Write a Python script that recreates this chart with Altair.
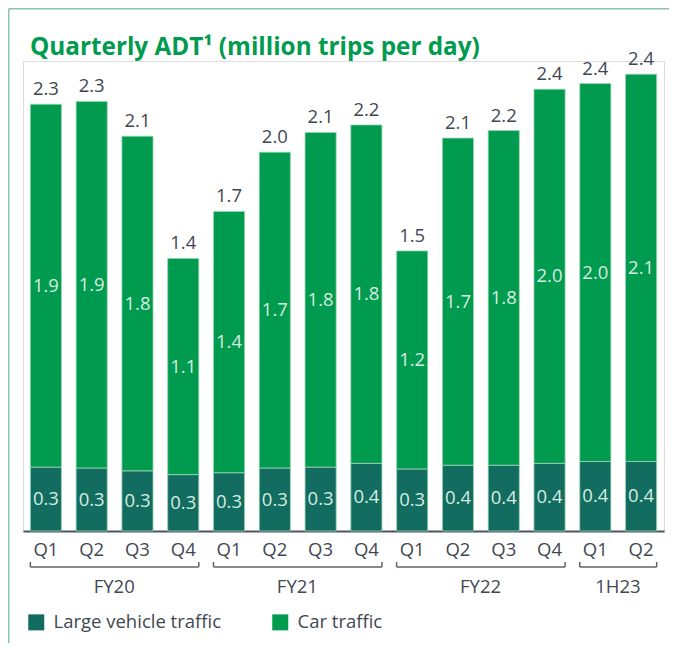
import altair as alt
import pandas as pd

# ---- data ----
ids = ["FY20 Q1", "FY20 Q2", "FY20 Q3", "FY20 Q4",
       "FY21 Q1", "FY21 Q2", "FY21 Q3", "FY21 Q4",
       "FY22 Q1", "FY22 Q2", "FY22 Q3", "FY22 Q4",
       "1H23 Q1", "1H23 Q2"]
large = [0.34, 0.335, 0.32, 0.30, 0.31, 0.335, 0.34, 0.36, 0.33, 0.35, 0.35, 0.36, 0.37, 0.37]
car = [1.93, 1.95, 1.78, 1.15, 1.39, 1.68, 1.78, 1.80, 1.16, 1.74, 1.78, 1.99, 2.01, 2.06]
large_labels = ["0.3", "0.3", "0.3", "0.3", "0.3", "0.3", "0.3", "0.4", "0.3", "0.4", "0.4", "0.4", "0.4", "0.4"]
car_labels = ["1.9", "1.9", "1.8", "1.1", "1.4", "1.7", "1.8", "1.8", "1.2", "1.7", "1.8", "2.0", "2.0", "2.1"]
total_labels = ["2.3", "2.3", "2.1", "1.4", "1.7", "2.0", "2.1", "2.2", "1.5", "2.1", "2.2", "2.4", "2.4", "2.4"]

groups = ["FY20", "FY21", "FY22", "1H23"]
group_first = ["FY20 Q1", "FY21 Q1", "FY22 Q1", "1H23 Q1"]
group_last = ["FY20 Q4", "FY21 Q4", "FY22 Q4", "1H23 Q2"]
group_anchor = ["FY20 Q2", "FY21 Q2", "FY22 Q2", "1H23 Q1"]

series_names = ["Large vehicle traffic", "Car traffic"]
series_colors = ["#136c60", "#009b4e"]
title_text = "Quarterly ADT\u00b9 (million trips per day)"

# ---- layout ----
W, H = 641, 470
PAD = {"left": 15, "top": 53, "right": 5, "bottom": 112}
FONT = "Open Sans"
DARK = "#3f4852"
FS = 18.5

rows = []
for i, k in enumerate(ids):
    rows.append({"id": k, "series": series_names[0], "start": 0.0, "end": large[i], "label": large_labels[i]})
    rows.append({"id": k, "series": series_names[1], "start": large[i], "end": large[i] + car[i], "label": car_labels[i]})
bar_df = pd.DataFrame(rows)
bar_df["mid"] = (bar_df["start"] + bar_df["end"]) / 2

tot_df = pd.DataFrame({"id": ids, "total": [a + b for a, b in zip(large, car)], "label": total_labels})
grp_df = pd.DataFrame({"group": groups, "first": group_first, "last": group_last, "anchor": group_anchor})

xscale = alt.Scale(domain=ids, paddingInner=0.32, paddingOuter=0.16)
xaxis = alt.Axis(title=None, labelExpr="split(datum.label, ' ')[1]", ticks=False,
                 domainColor="#4d5560", domainWidth=2, labelFontSize=FS,
                 labelColor=DARK, labelFont=FONT, labelPadding=9, labelAngle=0)
yscale = alt.Scale(domain=[0, 2.5], nice=False)

bars = alt.Chart(bar_df).mark_bar(stroke="#9ad6b4", strokeWidth=0.8).encode(
    x=alt.X("id:N", scale=xscale, axis=xaxis),
    y=alt.Y("start:Q", scale=yscale, axis=None),
    y2="end:Q",
    color=alt.Color("series:N",
                    scale=alt.Scale(domain=series_names, range=series_colors),
                    legend=alt.Legend(title=None, orient="none", legendX=4, legendY=552,
                                      direction="horizontal", symbolType="square", symbolSize=256,
                                      labelFontSize=FS, labelFont=FONT, labelColor=DARK,
                                      labelLimit=400,
                                      labelOffset=8, columnPadding=49, padding=0,
                                      symbolStrokeWidth=0, symbolOpacity=1)),
)

inner = alt.Chart(bar_df).mark_text(font=FONT, fontSize=FS, color="#d6ece0",
                                    baseline="middle").encode(
    x=alt.X("id:N", scale=xscale, axis=xaxis),
    y=alt.Y("mid:Q", scale=yscale, axis=None),
    text="label:N",
)

totals = alt.Chart(tot_df).mark_text(font=FONT, fontSize=FS, color=DARK, baseline="alphabetic", dy=-9).encode(
    x=alt.X("id:N", scale=xscale, axis=xaxis),
    y=alt.Y("total:Q", scale=yscale, axis=None),
    text="label:N",
)

BR = "#5a6470"
bracket = alt.Chart(grp_df).mark_rule(color=BR, strokeWidth=1.5).encode(
    x=alt.X("first:N", scale=xscale, axis=xaxis, bandPosition=0),
    x2=alt.X2("last:N", bandPosition=1),
    y=alt.value(506),
)
tick_l = alt.Chart(grp_df).mark_rule(color=BR, strokeWidth=1.5).encode(
    x=alt.X("first:N", scale=xscale, axis=xaxis, bandPosition=0),
    y=alt.value(501), y2=alt.value(506),
)
tick_r = alt.Chart(grp_df).mark_rule(color=BR, strokeWidth=1.5).encode(
    x=alt.X("last:N", scale=xscale, axis=xaxis, bandPosition=1),
    y=alt.value(501), y2=alt.value(506),
)
grp_text = alt.Chart(grp_df).mark_text(font=FONT, fontSize=FS, color=DARK, baseline="middle", dx=7).encode(
    x=alt.X("anchor:N", scale=xscale, axis=xaxis, bandPosition=1),
    y=alt.value(526),
    text="group:N",
)

title = alt.Chart(pd.DataFrame({"t": [title_text]})).mark_text(
    font=FONT, fontSize=24.3, fontWeight="bold", color="#009b4e", align="left", baseline="alphabetic"
).encode(x=alt.value(7), y=alt.value(-6), text="t:N")

FRAME = "#8cc2b6"
one = pd.DataFrame({"a": [0]})
frame_top = alt.Chart(one).mark_rule(color=FRAME, strokeWidth=1.5).encode(
    x=alt.value(-14.25), x2=alt.value(W + PAD["right"]), y=alt.value(-52.25))
frame_left = alt.Chart(one).mark_rule(color=FRAME, strokeWidth=1.5).encode(
    x=alt.value(-14.25), y=alt.value(-52.25), y2=alt.value(H + PAD["bottom"]))

chart = alt.layer(
    bars, frame_top, frame_left, inner, totals, bracket, tick_l, tick_r, grp_text, title
).properties(
    width=W, height=H, padding=PAD, autosize=alt.AutoSizeParams(type="none")
).configure_view(stroke=None).configure(background="white")

chart.save("out.html", embed_options={"renderer": "svg", "actions": False})
